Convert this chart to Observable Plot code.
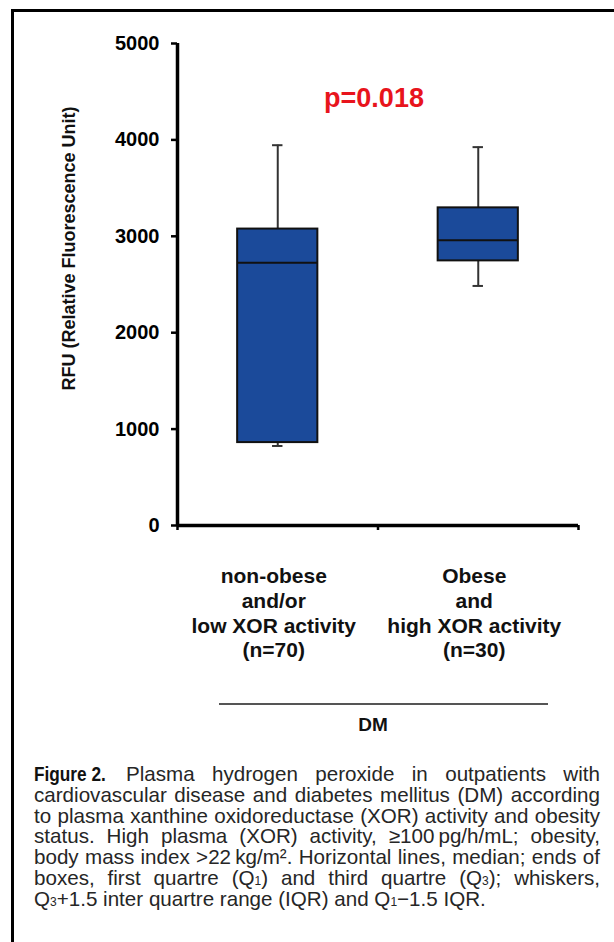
<!DOCTYPE html>
<html>
<head>
<meta charset="utf-8">
<script src="https://cdn.jsdelivr.net/npm/d3@7"></script>
<script src="https://cdn.jsdelivr.net/npm/@observablehq/plot@0.6"></script>
<style>
  html, body { margin: 0; padding: 0; background: #fff; }
  #page { position: relative; width: 614px; height: 942px; overflow: hidden; font-family: "Liberation Sans", Arial, sans-serif; }
  #frame { position: absolute; left: 11px; top: 9px; width: 620px; height: 960px; border-top: 3px solid #000; border-left: 3px solid #000; box-sizing: border-box; }
  #chart { position: absolute; left: 0; top: 0; }
  #dmline { position: absolute; left: 219px; top: 703px; width: 329px; height: 2px; background: #555; }
  #dm { position: absolute; left: 323px; width: 100px; top: 714px; text-align: center; font-weight: bold; font-size: 19px; color: #111; }
  #caption { position: absolute; left: 34px; top: 764px; width: 566px; font-size: 20.6px; line-height: 20.8px; color: #262626; }
  #caption .l { text-align: justify; text-align-last: justify; height: 20.8px; }
  #caption .last { text-align: left; text-align-last: left; }
  #caption .fig { display: inline-block; transform: scaleX(0.82); transform-origin: 0 50%; font-weight: bold; font-size: 21px; line-height: 18px; color: #111; margin-right: -13px; }
  #caption sub { font-size: 12px; vertical-align: 0; line-height: 0; }
</style>
</head>
<body>
<div id="page">
  <div id="frame"></div>
  <div id="chart"></div>
  <div id="dmline"></div>
  <div id="dm">DM</div>
  <div id="caption">
    <div class="l"><span class="fig">Figure 2.</span> Plasma hydrogen peroxide in outpatients with</div>
    <div class="l">cardiovascular disease and diabetes mellitus (DM) according</div>
    <div class="l">to plasma xanthine oxidoreductase (XOR) activity and obesity</div>
    <div class="l">status. High plasma (XOR) activity, ≥100&#8239;pg/h/mL; obesity,</div>
    <div class="l">body mass index &gt;22&#8239;kg/m². Horizontal lines, median; ends of</div>
    <div class="l">boxes, first quartre (Q<sub>1</sub>) and third quartre (Q<sub>3</sub>); whiskers,</div>
    <div class="l last">Q<sub>3</sub>+1.5 inter quartre range (IQR) and Q<sub>1</sub>−1.5 IQR.</div>
  </div>
</div>
<script>
// ---- data ----
const categories = ["non-obese\nand/or\nlow XOR activity\n(n=70)", "Obese\nand\nhigh XOR activity\n(n=30)"];
const whiskerLow = [825, 2485];
const q1 = [860, 2745];
const median = [2725, 2960];
const q3 = [3075, 3295];
const whiskerHigh = [3945, 3925];
const yTicks = [0, 1000, 2000, 3000, 4000, 5000];
const pLabel = "p=0.018";
const yTitle = "RFU (Relative Fluorescence Unit)";

// table built from the arrays
const rows = categories.map((c, i) => ({
  cat: c, pos: i + 0.5,
  lo: whiskerLow[i], q1: q1[i], med: median[i], q3: q3[i], hi: whiskerHigh[i]
}));
const halfBox = 0.2, halfCap = 0.026;
const boxFill = "#1b4a9a";

const chart = Plot.plot({
  width: 614,
  height: 760,
  marginTop: 43,
  marginBottom: 235,
  marginLeft: 177,
  marginRight: 36,
  style: { fontFamily: "'Liberation Sans', Arial, sans-serif", color: "#000", background: "transparent", overflow: "visible" },
  x: { type: "linear", domain: [0, categories.length], axis: null },
  y: { domain: [0, 5000], axis: null },
  marks: [
    // whiskers
    Plot.ruleX(rows, { x: "pos", y1: "lo", y2: "q1", stroke: "#333", strokeWidth: 2 }),
    Plot.ruleX(rows, { x: "pos", y1: "q3", y2: "hi", stroke: "#333", strokeWidth: 2 }),
    Plot.ruleY(rows, { y: "lo", x1: d => d.pos - halfCap, x2: d => d.pos + halfCap, stroke: "#333", strokeWidth: 2 }),
    Plot.ruleY(rows, { y: "hi", x1: d => d.pos - halfCap, x2: d => d.pos + halfCap, stroke: "#333", strokeWidth: 2 }),
    // boxes
    Plot.rect(rows, { x1: d => d.pos - halfBox, x2: d => d.pos + halfBox, y1: "q1", y2: "q3", fill: boxFill, stroke: "#111", strokeWidth: 2 }),
    Plot.ruleY(rows, { y: "med", x1: d => d.pos - halfBox, x2: d => d.pos + halfBox, stroke: "#111", strokeWidth: 2 }),
    // axes
    Plot.axisY({ ticks: yTicks, tickSize: 6, tickPadding: 12, tickFormat: d => String(d), fontSize: 20, fontWeight: "bold", stroke: "#000", strokeWidth: 2.5, label: null }),
    Plot.axisX({ ticks: [0, 1, 2], tickSize: 5, tickFormat: () => "", stroke: "#000", strokeWidth: 2.5, label: null }),
    Plot.ruleX([0], { stroke: "#000", strokeWidth: 3.5 }),
    Plot.ruleY([0], { stroke: "#000", strokeWidth: 3.5 }),
    // category labels
    Plot.text(rows, { x: "pos", y: 0, text: "cat", lineAnchor: "top", dy: 40, dx: -4, fontSize: 21, fontWeight: "bold", lineHeight: 1.18, fill: "#111" }),
    // p-value
    Plot.text([pLabel], { frameAnchor: "top", text: d => d, lineAnchor: "bottom", dy: 63, dx: -4, fontSize: 27, fontWeight: "bold", fill: "#e8141c" }),
    // y title
    Plot.text([yTitle], { frameAnchor: "left", text: d => d, rotate: -90, textAnchor: "middle", lineAnchor: "middle", dx: -108, dy: -36, fontSize: 18, fontWeight: "bold", fill: "#111" })
  ]
});
document.getElementById("chart").appendChild(chart);
</script>
</body>
</html>
